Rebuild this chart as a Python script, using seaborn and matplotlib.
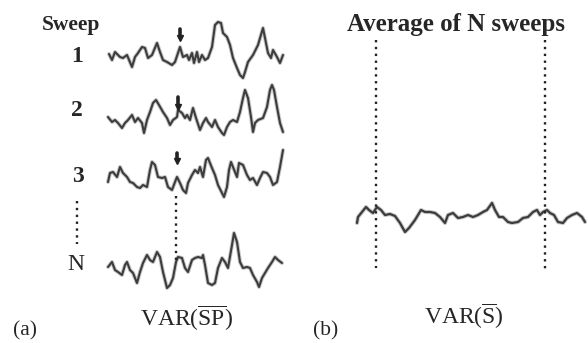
import matplotlib
matplotlib.use("Agg")
import matplotlib.pyplot as plt
import seaborn as sns
import numpy as np

# ---------------- data ----------------
# time samples (arbitrary units) and amplitudes of each single sweep
sweep1_t = [1,4,7,12,15,19,24,27,30,34,37,40,44,49,52,55,59,64,67,72,75,79,81,84,86,89,91,94,97,100,
            104,107,110,113,115,119,122,125,129,132,135,137,140,145,150,155,157,160,163,165,169,172,175]
sweep1_a = [1,-5,3,-2,-3,0,-12,-2,2,8,7,-3,0,12,3,-5,-7,-10,-7,8,-2,0,-5,2,-8,3,-7,0,-5,-3,
            8,30,33,32,22,18,10,-3,-13,-20,-23,-17,-7,0,10,27,17,2,-3,5,-2,-8,0]

sweep2_t = [0,4,7,10,14,17,20,24,27,30,34,36,39,42,45,48,51,55,59,62,65,69,70,74,77,79,82,85,88,92,
            95,98,100,104,107,110,114,116,119,122,125,129,132,135,137,140,143,145,147,150,155,159,162,164,166,169,172,175]
sweep2_a = [3,-2,0,-3,-8,-3,0,5,-2,2,-3,-13,0,8,17,20,15,8,2,-5,0,3,10,7,2,5,0,12,2,-10,
            -3,2,-2,-7,0,-7,-13,-15,-7,-2,0,-2,8,22,30,22,3,-12,-3,0,2,13,30,35,30,13,-3,-12]

sweep3_t = [0,2,5,9,12,15,19,22,25,29,32,35,39,42,44,47,50,54,57,60,64,67,69,72,75,78,80,84,87,90,
            92,95,98,100,104,107,110,114,116,119,121,123,125,129,131,135,139,142,145,149,152,155,159,162,165,169,172,175]
sweep3_a = [-6,3,4,-1,9,3,-1,-6,-7,-11,-12,-9,-11,6,14,11,-1,-2,-1,-11,-14,-6,-1,-7,-14,-17,-7,1,6,3,
            9,-1,16,18,8,1,-9,-17,-21,-11,6,14,9,-1,13,11,1,-4,-2,-9,-2,4,3,-1,-9,-6,9,26]

sweepN_t = [0,4,7,10,14,17,19,22,25,29,32,35,39,42,45,49,52,55,59,62,65,68,70,74,77,80,84,87,90,94,
            95,97,100,104,107,110,114,117,120,124,126,129,132,135,139,142,145,149,151,154,157,160,164,167,170,174]
sweepN_a = [-2,3,-5,-7,-10,0,3,-5,-8,-18,-7,2,10,5,3,13,8,-7,-23,-20,-13,3,8,7,-3,-7,5,7,8,7,
            10,0,-18,-20,-18,-3,7,3,-3,20,32,23,3,-3,-2,-3,-10,-17,-22,-13,-8,-3,3,8,5,2]

avg_t = [2,3,7,11,14,18,22,26,30,35,40,45,50,54,60,63,66,70,75,80,85,90,93,98,103,108,113,118,123,128,
         132,137,140,144,148,153,157,163,168,173,178,182,185,188,192,195,199,203,208,212,217,222,227,230]
avg_a = [-8,-2,3,8,5,2,8,5,0,1,-1,-8,-17,-13,-5,0,5,3,3,2,-2,-8,0,2,-3,-2,0,-2,0,3,
         5,12,5,-2,-2,-7,-8,-7,-3,-2,3,5,0,3,5,2,0,-7,-8,-3,0,2,-2,-7]

sweep_labels = ["1", "2", "3", "N"]

# ---------------- layout (pixel canvas) ----------------
W, H = 588, 343
sns.set_theme(style="white")
plt.rcParams["font.family"] = ["Liberation Serif", "DejaVu Serif"]
plt.rcParams["mathtext.fontset"] = "custom"
plt.rcParams["mathtext.rm"] = "Liberation Serif"

fig = plt.figure(figsize=(W / 100, H / 100), dpi=100)
ax = fig.add_axes([0, 0, 1, 1])
ax.set_xlim(0, W)
ax.set_ylim(H, 0)
ax.axis("off")

ink = "#3c3c3c"
halo = "#9a9a9a"

def trace(t, a, x0, base, lw=1.5):
    xs = [x0 + v for v in t]
    ys = [base - v for v in a]
    sns.lineplot(x=xs, y=ys, ax=ax, sort=False, estimator=None, color=halo, lw=lw + 1.4, alpha=0.55)
    sns.lineplot(x=xs, y=ys, ax=ax, sort=False, estimator=None, color=ink, lw=lw)

x0a = 108
bases = [55, 120, 176, 265]
for t, a, b in zip([sweep1_t, sweep2_t, sweep3_t, sweepN_t],
                   [sweep1_a, sweep2_a, sweep3_a, sweepN_a], bases):
    trace(t, a, x0a, b)

trace(avg_t, avg_a, 355, 215, lw=1.6)

# stimulus markers
for xm, ytop, ybot in [(180, 29, 40), (178, 97, 109), (176.5, 153, 163)]:
    ax.plot([xm, xm], [ytop, ybot - 3], color="#222222", lw=2.6, solid_capstyle="round")
    ax.plot([xm], [ybot - 2], marker="v", color="#222222", ms=4.5)

# dotted lines
dot = dict(color="#222222", lw=1.7, linestyle=(0, (1.0, 1.9)))
ax.plot([176, 176], [196, 262], **dot)
ax.plot([77, 77], [201, 244], **dot)
ax.plot([376, 376], [40, 268], **dot)
ax.plot([545, 545], [40, 270], **dot)

# text
ax.text(71, 25, "Sweep", ha="center", va="center", fontsize=15.5, fontweight="bold")
for lab, (xl, yl) in zip(sweep_labels, [(77, 56), (77, 110), (77.5, 177), (76, 265)]):
    ax.text(xl, yl, lab, ha="center", va="center", fontsize=17,
            fontweight="normal" if lab == "N" else "bold")
ax.text(456, 24, "Average of N sweeps", ha="center", va="center", fontsize=18, fontweight="bold")
ax.text(186.5, 318, r"VAR($\overline{\mathrm{SP}}$)", ha="center", va="center", fontsize=17)
ax.text(464, 316, r"VAR($\overline{\mathrm{S}}$)", ha="center", va="center", fontsize=17)
ax.text(25, 331, "(a)", ha="center", va="center", fontsize=15.5)
ax.text(326, 331, "(b)", ha="center", va="center", fontsize=15.5)

fig.savefig("out.png", dpi=100)
